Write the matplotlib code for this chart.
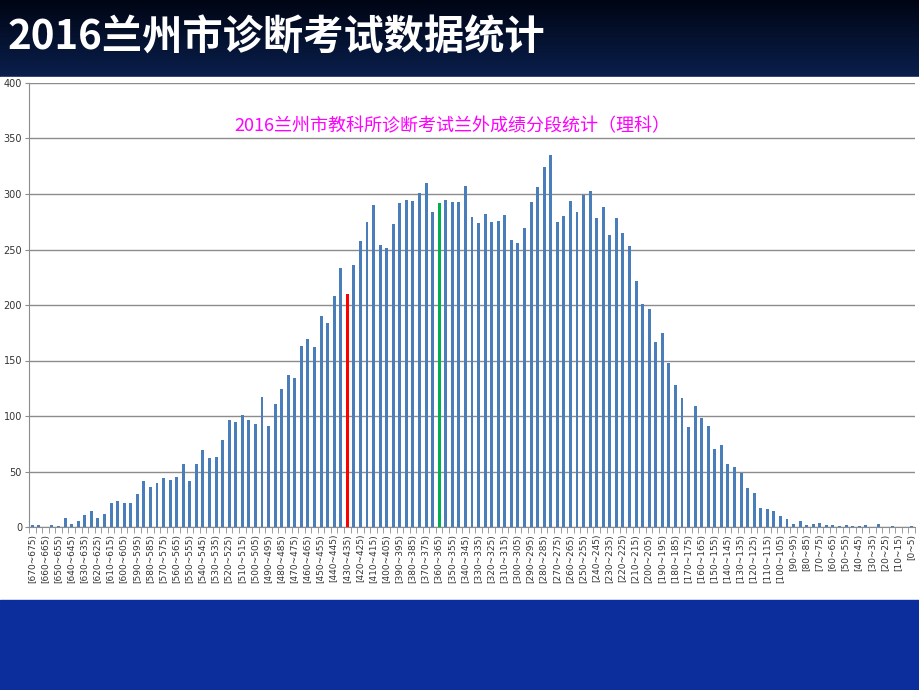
import numpy as np
import matplotlib
matplotlib.use('Agg')
import matplotlib.pyplot as plt
from matplotlib.patches import Rectangle

plt.rcParams['font.family'] = ['Noto Sans CJK SC', 'DejaVu Sans']

# bornes basses des tranches de 5 points, de 670 a 0
bin_low = list(range(670, -1, -5))
labels = ['[%d~%d)' % (b, b + 5) for b in bin_low]

counts = [2, 2, 0, 2, 1, 8, 3, 5, 11, 14, 8, 12, 22, 23, 22, 22, 30, 41, 36, 40,
          44, 42, 45, 57, 41, 57, 69, 62, 63, 78, 96, 95, 101, 96, 93, 117, 91, 111, 124, 137,
          134, 163, 169, 162,
          190, 184, 208, 233, 210, 236, 258, 275, 290, 254, 251, 273, 292, 295, 294, 301,
          310, 284, 292, 295, 293, 293, 307, 279, 274, 282, 275, 276, 281, 259, 256, 269,
          293, 306, 324, 335, 275, 280, 294, 284, 299, 303, 278, 288, 263, 278,
          265, 253, 222, 201, 196, 167, 175, 148, 128, 116, 90, 109, 98, 91, 70, 74,
          57, 54, 49, 35, 31, 17, 16, 14, 10, 7, 3, 5, 2, 3, 4, 2, 2, 1, 2, 1,
          1, 2, 0, 3, 0, 1, 0, 0, 1]

red_bin = 430     # ligne un
green_bin = 360   # ligne deux

slide_title = '2016兰州市诊断考试数据统计'
chart_title = '2016兰州市教科所诊断考试兰外成绩分段统计（理科）'

fig = plt.figure(figsize=(9.2, 6.9), dpi=100)

# fond de la diapo
bg = fig.add_axes([0, 0, 1, 1])
bg.set_xlim(0, 920)
bg.set_ylim(690, 0)
bg.axis('off')
grad = np.linspace(0, 1, 100).reshape(-1, 1)
top_cmap = matplotlib.colors.LinearSegmentedColormap.from_list('top', ['#000514', '#0a1f4c'])
bg.imshow(grad, extent=(0, 920, 77, 0), cmap=top_cmap, aspect='auto')
bg.add_patch(Rectangle((0, 77), 920, 523, color='white'))
bg.add_patch(Rectangle((0, 600), 920, 90, color='#0b2e9c'))
bg.text(8, 38, slide_title, color='white', fontsize=29, fontweight='bold', va='center', ha='left')

ax = fig.add_axes([29 / 920, 163 / 690, 886 / 920, 444 / 690])
x = np.arange(len(counts))
colors = ['#4a7ebb'] * len(counts)
colors[bin_low.index(red_bin)] = '#ff0000'
colors[bin_low.index(green_bin)] = '#00b050'
ax.bar(x, counts, width=0.45, color=colors, zorder=3)

ax.set_xlim(-0.5, len(counts) - 0.5)
ax.set_ylim(0, 400)
ax.set_yticks(range(0, 401, 50))
ax.grid(axis='y', color='#8c8c8c', linewidth=1, zorder=0)
for s in ['top', 'right']:
    ax.spines[s].set_visible(False)
for s in ['left', 'bottom']:
    ax.spines[s].set_color('#8c8c8c')

ax.set_xticks(x[::2])
ax.set_xticklabels(labels[::2], rotation=90, fontsize=6.5, color='#333333', family='DejaVu Sans')
ax.set_xticks(np.arange(-0.5, len(counts), 1), minor=True)
ax.tick_params(axis='x', which='major', length=0, pad=5)
ax.tick_params(axis='x', which='minor', length=4, color='#8c8c8c')
ax.tick_params(axis='y', length=3, color='#8c8c8c', labelsize=7, labelcolor='#333333', pad=2)
for t in ax.get_yticklabels():
    t.set_family('DejaVu Sans')

ax.text(0.478, 0.902, chart_title, transform=ax.transAxes, color='#ff00ff',
        fontsize=13, fontweight='medium', ha='center', va='center')

fig.savefig('out.png', dpi=100)
